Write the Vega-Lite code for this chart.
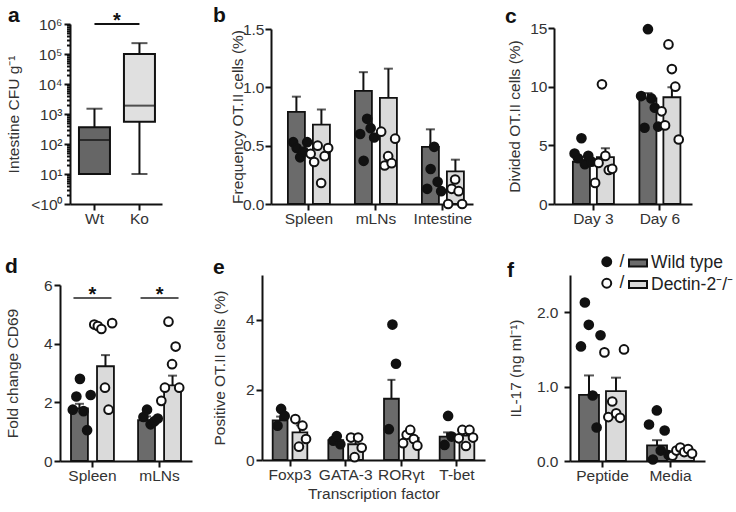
{
  "$schema": "https://vega.github.io/schema/vega-lite/v6.json",
  "background": "white",
  "padding": {"left": 5, "top": 5, "right": 0, "bottom": 0},
  "autosize": {"type": "pad"},
  "config": {
    "view": {"stroke": null},
    "font": "Liberation Sans",
    "axis": {"labelFont": "Liberation Sans", "labelFontSize": 15.5, "labelColor": "#333", "titleFont": "Liberation Sans", "titleFontSize": 15.5, "titleFontWeight": "normal", "titleColor": "#333", "domainColor": "#111", "domainWidth": 2, "tickColor": "#111", "tickWidth": 2, "tickSize": 6, "grid": false, "labelPadding": 1, "labelOverlap": false},
    "title": {"font": "Liberation Sans", "fontSize": 21, "fontWeight": "bold", "anchor": "start", "frame": "group", "baseline": "alphabetic", "color": "#111"}
  },
  "datasets": {
    "aBox": [
      {"genotype": "Wt", "min": 10, "q1": 10, "median": 137, "q3": 360, "max": 1500},
      {"genotype": "Ko", "min": 10, "q1": 550, "median": 1900, "q3": 100000, "max": 230000}
    ],
    "aSig": [{"from": "Wt", "to": "Ko", "p": 1000000}],
    "bBars": [
      {"tissue": "Spleen", "genotype": "WT", "mean": 0.79, "upper": 0.92},
      {"tissue": "Spleen", "genotype": "KO", "mean": 0.68, "upper": 0.81},
      {"tissue": "mLNs", "genotype": "WT", "mean": 0.97, "upper": 1.13},
      {"tissue": "mLNs", "genotype": "KO", "mean": 0.91, "upper": 1.16},
      {"tissue": "Intestine", "genotype": "WT", "mean": 0.49, "upper": 0.64},
      {"tissue": "Intestine", "genotype": "KO", "mean": 0.28, "upper": 0.38}
    ],
    "bDots": [
      {"tissue": "Spleen", "genotype": "WT", "sample": "W4", "value": 0.53},
      {"tissue": "Spleen", "genotype": "WT", "sample": "W2", "value": 0.48},
      {"tissue": "Spleen", "genotype": "WT", "sample": "W1", "value": 0.40},
      {"tissue": "Spleen", "genotype": "WT", "sample": "W3", "value": 0.45},
      {"tissue": "Spleen", "genotype": "WT", "sample": "W5", "value": 0.53},
      {"tissue": "Spleen", "genotype": "KO", "sample": "K6", "value": 0.43},
      {"tissue": "Spleen", "genotype": "KO", "sample": "K4", "value": 0.36},
      {"tissue": "Spleen", "genotype": "KO", "sample": "K2", "value": 0.50},
      {"tissue": "Spleen", "genotype": "KO", "sample": "K1", "value": 0.18},
      {"tissue": "Spleen", "genotype": "KO", "sample": "K3", "value": 0.41},
      {"tissue": "Spleen", "genotype": "KO", "sample": "K5", "value": 0.48},
      {"tissue": "mLNs", "genotype": "WT", "sample": "W4", "value": 0.60},
      {"tissue": "mLNs", "genotype": "WT", "sample": "W2", "value": 0.37},
      {"tissue": "mLNs", "genotype": "WT", "sample": "W1", "value": 0.73},
      {"tissue": "mLNs", "genotype": "WT", "sample": "W3", "value": 0.65},
      {"tissue": "mLNs", "genotype": "WT", "sample": "W5", "value": 0.57},
      {"tissue": "mLNs", "genotype": "KO", "sample": "K4", "value": 0.62},
      {"tissue": "mLNs", "genotype": "KO", "sample": "K2", "value": 0.33},
      {"tissue": "mLNs", "genotype": "KO", "sample": "K1", "value": 0.41},
      {"tissue": "mLNs", "genotype": "KO", "sample": "K3", "value": 0.35},
      {"tissue": "mLNs", "genotype": "KO", "sample": "K5", "value": 0.56},
      {"tissue": "Intestine", "genotype": "WT", "sample": "W4", "value": 0.13},
      {"tissue": "Intestine", "genotype": "WT", "sample": "W2", "value": 0.30},
      {"tissue": "Intestine", "genotype": "WT", "sample": "W1", "value": 0.49},
      {"tissue": "Intestine", "genotype": "WT", "sample": "W3", "value": 0.19},
      {"tissue": "Intestine", "genotype": "WT", "sample": "W5", "value": 0.11},
      {"tissue": "Intestine", "genotype": "KO", "sample": "K4", "value": 0.0},
      {"tissue": "Intestine", "genotype": "KO", "sample": "K2", "value": 0.13},
      {"tissue": "Intestine", "genotype": "KO", "sample": "K1", "value": 0.21},
      {"tissue": "Intestine", "genotype": "KO", "sample": "K3", "value": 0.11},
      {"tissue": "Intestine", "genotype": "KO", "sample": "K5", "value": 0.0}
    ],
    "cBars": [
      {"day": "Day 3", "genotype": "WT", "mean": 3.6, "upper": 4.0},
      {"day": "Day 3", "genotype": "KO", "mean": 4.0, "upper": 4.75},
      {"day": "Day 6", "genotype": "WT", "mean": 9.0, "upper": 9.45},
      {"day": "Day 6", "genotype": "KO", "mean": 9.1, "upper": 9.95}
    ],
    "cDots": [
      {"day": "Day 3", "genotype": "WT", "sample": "W6", "value": 4.3},
      {"day": "Day 3", "genotype": "WT", "sample": "W4", "value": 3.9},
      {"day": "Day 3", "genotype": "WT", "sample": "W2", "value": 5.6},
      {"day": "Day 3", "genotype": "WT", "sample": "W1", "value": 3.4},
      {"day": "Day 3", "genotype": "WT", "sample": "W3", "value": 4.1},
      {"day": "Day 3", "genotype": "WT", "sample": "W5", "value": 3.6},
      {"day": "Day 3", "genotype": "KO", "sample": "K6", "value": 1.8},
      {"day": "Day 3", "genotype": "KO", "sample": "K4", "value": 3.5},
      {"day": "Day 3", "genotype": "KO", "sample": "K2", "value": 10.2},
      {"day": "Day 3", "genotype": "KO", "sample": "K1", "value": 4.1},
      {"day": "Day 3", "genotype": "KO", "sample": "K3", "value": 2.9},
      {"day": "Day 3", "genotype": "KO", "sample": "K5", "value": 3.0},
      {"day": "Day 6", "genotype": "WT", "sample": "W6", "value": 9.2},
      {"day": "Day 6", "genotype": "WT", "sample": "W4", "value": 6.5},
      {"day": "Day 6", "genotype": "WT", "sample": "W2", "value": 14.9},
      {"day": "Day 6", "genotype": "WT", "sample": "W1", "value": 9.0},
      {"day": "Day 6", "genotype": "WT", "sample": "W3", "value": 8.2},
      {"day": "Day 6", "genotype": "WT", "sample": "W5", "value": 6.6},
      {"day": "Day 6", "genotype": "KO", "sample": "K6", "value": 7.9},
      {"day": "Day 6", "genotype": "KO", "sample": "K4", "value": 6.7},
      {"day": "Day 6", "genotype": "KO", "sample": "K2", "value": 13.6},
      {"day": "Day 6", "genotype": "KO", "sample": "K1", "value": 11.5},
      {"day": "Day 6", "genotype": "KO", "sample": "K3", "value": 10.0},
      {"day": "Day 6", "genotype": "KO", "sample": "K5", "value": 5.5}
    ],
    "dBars": [
      {"tissue": "Spleen", "genotype": "WT", "mean": 1.79, "upper": 1.95},
      {"tissue": "Spleen", "genotype": "KO", "mean": 3.23, "upper": 3.61},
      {"tissue": "mLNs", "genotype": "WT", "mean": 1.39, "upper": 1.52},
      {"tissue": "mLNs", "genotype": "KO", "mean": 2.58, "upper": 2.91}
    ],
    "dDots": [
      {"tissue": "Spleen", "genotype": "WT", "sample": "W6", "value": 1.75},
      {"tissue": "Spleen", "genotype": "WT", "sample": "W4", "value": 2.2},
      {"tissue": "Spleen", "genotype": "WT", "sample": "W2", "value": 2.8},
      {"tissue": "Spleen", "genotype": "WT", "sample": "W1", "value": 1.7},
      {"tissue": "Spleen", "genotype": "WT", "sample": "W3", "value": 1.05},
      {"tissue": "Spleen", "genotype": "WT", "sample": "W5", "value": 2.25},
      {"tissue": "Spleen", "genotype": "KO", "sample": "K6", "value": 4.65},
      {"tissue": "Spleen", "genotype": "KO", "sample": "K4", "value": 4.6},
      {"tissue": "Spleen", "genotype": "KO", "sample": "K2", "value": 4.5},
      {"tissue": "Spleen", "genotype": "KO", "sample": "K1", "value": 2.5},
      {"tissue": "Spleen", "genotype": "KO", "sample": "K3", "value": 1.75},
      {"tissue": "Spleen", "genotype": "KO", "sample": "K5", "value": 4.7},
      {"tissue": "mLNs", "genotype": "WT", "sample": "W4", "value": 1.5},
      {"tissue": "mLNs", "genotype": "WT", "sample": "W2", "value": 1.75},
      {"tissue": "mLNs", "genotype": "WT", "sample": "W1", "value": 1.25},
      {"tissue": "mLNs", "genotype": "WT", "sample": "W3", "value": 1.35},
      {"tissue": "mLNs", "genotype": "WT", "sample": "W5", "value": 1.45},
      {"tissue": "mLNs", "genotype": "KO", "sample": "K6", "value": 2.05},
      {"tissue": "mLNs", "genotype": "KO", "sample": "K4", "value": 2.5},
      {"tissue": "mLNs", "genotype": "KO", "sample": "K2", "value": 4.75},
      {"tissue": "mLNs", "genotype": "KO", "sample": "K1", "value": 3.3},
      {"tissue": "mLNs", "genotype": "KO", "sample": "K3", "value": 3.9},
      {"tissue": "mLNs", "genotype": "KO", "sample": "K5", "value": 2.5}
    ],
    "dSig": [{"tissue": "Spleen", "p": 5.56}, {"tissue": "mLNs", "p": 5.56}],
    "eBars": [
      {"factor": "Foxp3", "genotype": "WT", "mean": 1.13, "upper": 1.24},
      {"factor": "Foxp3", "genotype": "KO", "mean": 0.79, "upper": 0.99},
      {"factor": "GATA-3", "genotype": "WT", "mean": 0.57, "upper": 0.64},
      {"factor": "GATA-3", "genotype": "KO", "mean": 0.45, "upper": 0.58},
      {"factor": "RORγt", "genotype": "WT", "mean": 1.75, "upper": 2.29},
      {"factor": "RORγt", "genotype": "KO", "mean": 0.63, "upper": 0.72},
      {"factor": "T-bet", "genotype": "WT", "mean": 0.67, "upper": 0.79},
      {"factor": "T-bet", "genotype": "KO", "mean": 0.7, "upper": 0.77}
    ],
    "eDots": [
      {"factor": "Foxp3", "genotype": "WT", "sample": "W3", "value": 0.98},
      {"factor": "Foxp3", "genotype": "WT", "sample": "W1", "value": 1.46},
      {"factor": "Foxp3", "genotype": "WT", "sample": "W2", "value": 1.26},
      {"factor": "Foxp3", "genotype": "KO", "sample": "K3", "value": 1.17},
      {"factor": "Foxp3", "genotype": "KO", "sample": "K1", "value": 0.38},
      {"factor": "Foxp3", "genotype": "KO", "sample": "K2", "value": 0.98},
      {"factor": "Foxp3", "genotype": "KO", "sample": "K4", "value": 0.6},
      {"factor": "GATA-3", "genotype": "WT", "sample": "W3", "value": 0.55},
      {"factor": "GATA-3", "genotype": "WT", "sample": "W1", "value": 0.68},
      {"factor": "GATA-3", "genotype": "WT", "sample": "W2", "value": 0.45},
      {"factor": "GATA-3", "genotype": "KO", "sample": "K3", "value": 0.64},
      {"factor": "GATA-3", "genotype": "KO", "sample": "K1", "value": 0.08},
      {"factor": "GATA-3", "genotype": "KO", "sample": "K2", "value": 0.64},
      {"factor": "GATA-3", "genotype": "KO", "sample": "K4", "value": 0.35},
      {"factor": "RORγt", "genotype": "WT", "sample": "W3", "value": 0.88},
      {"factor": "RORγt", "genotype": "WT", "sample": "W1", "value": 3.87},
      {"factor": "RORγt", "genotype": "WT", "sample": "W2", "value": 2.75},
      {"factor": "RORγt", "genotype": "KO", "sample": "K5", "value": 0.48},
      {"factor": "RORγt", "genotype": "KO", "sample": "K3", "value": 0.72},
      {"factor": "RORγt", "genotype": "KO", "sample": "K1", "value": 0.86},
      {"factor": "RORγt", "genotype": "KO", "sample": "K2", "value": 0.6},
      {"factor": "RORγt", "genotype": "KO", "sample": "K4", "value": 0.41},
      {"factor": "T-bet", "genotype": "WT", "sample": "W3", "value": 0.43},
      {"factor": "T-bet", "genotype": "WT", "sample": "W1", "value": 1.26},
      {"factor": "T-bet", "genotype": "WT", "sample": "W2", "value": 0.67},
      {"factor": "T-bet", "genotype": "KO", "sample": "K5", "value": 0.62},
      {"factor": "T-bet", "genotype": "KO", "sample": "K3", "value": 0.86},
      {"factor": "T-bet", "genotype": "KO", "sample": "K1", "value": 0.4},
      {"factor": "T-bet", "genotype": "KO", "sample": "K2", "value": 0.86},
      {"factor": "T-bet", "genotype": "KO", "sample": "K4", "value": 0.64}
    ],
    "fBars": [
      {"stimulus": "Peptide", "genotype": "Wild type", "mean": 0.89, "upper": 1.15},
      {"stimulus": "Peptide", "genotype": "Dectin-2⁻/⁻", "mean": 0.94, "upper": 1.12},
      {"stimulus": "Media", "genotype": "Wild type", "mean": 0.21, "upper": 0.28},
      {"stimulus": "Media", "genotype": "Dectin-2⁻/⁻", "mean": 0.13, "upper": 0.17}
    ],
    "fDots": [
      {"stimulus": "Peptide", "genotype": "WT", "sample": "W6", "value": 1.54},
      {"stimulus": "Peptide", "genotype": "WT", "sample": "W4", "value": 2.13},
      {"stimulus": "Peptide", "genotype": "WT", "sample": "W2", "value": 1.83},
      {"stimulus": "Peptide", "genotype": "WT", "sample": "W1", "value": 0.88},
      {"stimulus": "Peptide", "genotype": "WT", "sample": "W3", "value": 0.45},
      {"stimulus": "Peptide", "genotype": "WT", "sample": "W5", "value": 1.69},
      {"stimulus": "Peptide", "genotype": "KO", "sample": "K6", "value": 1.46},
      {"stimulus": "Peptide", "genotype": "KO", "sample": "K4", "value": 0.59},
      {"stimulus": "Peptide", "genotype": "KO", "sample": "K2", "value": 0.8},
      {"stimulus": "Peptide", "genotype": "KO", "sample": "K1", "value": 0.64},
      {"stimulus": "Peptide", "genotype": "KO", "sample": "K3", "value": 0.58},
      {"stimulus": "Peptide", "genotype": "KO", "sample": "K5", "value": 1.5},
      {"stimulus": "Media", "genotype": "WT", "sample": "W6", "value": 0.49},
      {"stimulus": "Media", "genotype": "WT", "sample": "W4", "value": 0.02},
      {"stimulus": "Media", "genotype": "WT", "sample": "W2", "value": 0.68},
      {"stimulus": "Media", "genotype": "WT", "sample": "W1", "value": 0.14},
      {"stimulus": "Media", "genotype": "WT", "sample": "W3", "value": 0.41},
      {"stimulus": "Media", "genotype": "WT", "sample": "W5", "value": 0.08},
      {"stimulus": "Media", "genotype": "KO", "sample": "K6", "value": 0.07},
      {"stimulus": "Media", "genotype": "KO", "sample": "K4", "value": 0.14},
      {"stimulus": "Media", "genotype": "KO", "sample": "K2", "value": 0.18},
      {"stimulus": "Media", "genotype": "KO", "sample": "K1", "value": 0.12},
      {"stimulus": "Media", "genotype": "KO", "sample": "K3", "value": 0.16},
      {"stimulus": "Media", "genotype": "KO", "sample": "K5", "value": 0.1}
    ]
  },
  "spacing": 29,
  "vconcat": [
    {
      "bounds": "flush",
      "spacing": 0,
      "hconcat": [
        {"width": 10, "height": 1, "data": {"values": []}, "mark": "point"},
        {
          "width": 92, "height": 180,
          "title": {"text": "a", "dx": -62, "offset": -15},
          "data": {"name": "aBox"},
          "encoding": {"x": {"field": "genotype", "type": "nominal", "title": null, "scale": {"domain": ["Wt", "Ko"], "paddingInner": 0.311, "paddingOuter": 0.178, "align": 0.56}, "axis": {"labelAngle": 0, "labelPadding": 1}}},
          "layer": [
            {"mark": {"type": "rule", "color": "#111", "strokeWidth": 2},
             "encoding": {"y": {"field": "min", "type": "quantitative", "title": "Intestine CFU g⁻¹", "scale": {"type": "log", "domain": [1, 1000000], "nice": false},
               "axis": {"titlePadding": 9, "labelPadding": 2,
                 "tickSize": {"condition": {"test": "indexof([1, 10, 100, 1000, 10000, 100000, 1000000], datum.value) >= 0", "value": 6}, "value": 3.5},
                 "values": [1,2,3,4,5,6,7,8,9,10,20,30,40,50,60,70,80,90,100,200,300,400,500,600,700,800,900,1000,2000,3000,4000,5000,6000,7000,8000,9000,10000,20000,30000,40000,50000,60000,70000,80000,90000,100000,200000,300000,400000,500000,600000,700000,800000,900000,1000000],
                 "labelExpr": "datum.value === 1 ? '<10⁰' : datum.value === 10 ? '10¹' : datum.value === 100 ? '10²' : datum.value === 1000 ? '10³' : datum.value === 10000 ? '10⁴' : datum.value === 100000 ? '10⁵' : datum.value === 1000000 ? '10⁶' : ''"}},
               "y2": {"field": "max"}}},
            {"mark": {"type": "tick", "color": "#111", "thickness": 2, "size": 16}, "encoding": {"y": {"field": "max", "type": "quantitative", "title": "Intestine CFU g⁻¹"}}},
            {"mark": {"type": "tick", "color": "#111", "thickness": 2, "size": 16}, "encoding": {"y": {"field": "min", "type": "quantitative", "title": "Intestine CFU g⁻¹"}}},
            {"mark": {"type": "bar", "stroke": "#111", "strokeWidth": 2},
             "encoding": {"y": {"field": "q1", "type": "quantitative", "title": "Intestine CFU g⁻¹"}, "y2": {"field": "q3"},
               "fill": {"condition": {"test": "datum.genotype === 'Wt'", "value": "#666666"}, "value": "#e0e0e0"}}},
            {"mark": {"type": "tick", "color": "#111", "thickness": 2, "size": 31}, "encoding": {"y": {"field": "median", "type": "quantitative", "title": "Intestine CFU g⁻¹"}}},
            {"data": {"name": "aSig"}, "mark": {"type": "rule", "color": "#111", "strokeWidth": 2},
             "encoding": {"x": {"field": "from", "type": "nominal", "title": null}, "x2": {"field": "to"}, "y": {"field": "p", "type": "quantitative", "title": "Intestine CFU g⁻¹"}}},
            {"data": {"name": "aSig"}, "mark": {"type": "text", "text": "*", "fontSize": 20, "fontWeight": "bold", "dx": 22.5, "dy": 3, "baseline": "alphabetic", "color": "#111"},
             "encoding": {"x": {"field": "from", "type": "nominal", "title": null}, "y": {"field": "p", "type": "quantitative", "title": "Intestine CFU g⁻¹"}}}
          ]
        },
        {"width": 109, "height": 1, "data": {"values": []}, "mark": "point"},
        {
          "width": 202, "height": 180,
          "title": {"text": "b", "dx": -58, "offset": -4},
          "encoding": {"x": {"field": "tissue", "type": "nominal", "title": null, "scale": {"domain": ["Spleen", "mLNs", "Intestine"], "paddingInner": 0.373, "paddingOuter": 0.194, "align": 0.65}, "axis": {"labelAngle": 0}}},
          "layer": [
            {"data": {"name": "bBars"}, "mark": {"type": "bar", "stroke": "#111", "strokeWidth": 1.8},
             "encoding": {"xOffset": {"field": "genotype", "type": "nominal", "scale": {"domain": ["WT", "KO"], "paddingInner": 0.32, "paddingOuter": 0}},
               "y": {"field": "mean", "type": "quantitative", "title": "Frequency OT.II cells (%)", "scale": {"domain": [0, 1.5], "nice": false, "range": [180, 5]},
                 "axis": {"titlePadding": -3, "values": [0, 0.25, 0.5, 0.75, 1, 1.25, 1.5], "labelExpr": "datum.value % 0.5 === 0 ? format(datum.value, '.1f') : ''"}},
               "fill": {"condition": {"test": "datum.genotype === 'WT'", "value": "#6b6b6b"}, "value": "#dadada"}}},
            {"data": {"name": "bBars"}, "mark": {"type": "rule", "color": "#111", "strokeWidth": 2},
             "encoding": {"xOffset": {"field": "genotype", "type": "nominal", "scale": {"domain": ["WT", "KO"], "paddingInner": 0.32, "paddingOuter": 0}},
               "y": {"field": "mean", "type": "quantitative", "title": "Frequency OT.II cells (%)"}, "y2": {"field": "upper"}}},
            {"data": {"name": "bBars"}, "mark": {"type": "tick", "color": "#111", "thickness": 2, "size": 9},
             "encoding": {"xOffset": {"field": "genotype", "type": "nominal", "scale": {"domain": ["WT", "KO"], "paddingInner": 0.32, "paddingOuter": 0}},
               "y": {"field": "upper", "type": "quantitative", "title": "Frequency OT.II cells (%)"}}},
            {"data": {"name": "bDots"}, "mark": {"type": "circle", "size": 75, "opacity": 1, "stroke": "#111", "strokeWidth": 2},
             "encoding": {"xOffset": {"field": "sample", "type": "nominal", "scale": {"domain": ["W6", "W4", "W2", "W1", "W3", "W5", "K6", "K4", "K2", "K1", "K3", "K5"]}},
               "y": {"field": "value", "type": "quantitative", "title": "Frequency OT.II cells (%)"},
               "fill": {"condition": {"test": "datum.genotype === 'WT'", "value": "#111"}, "value": "white"}}}
          ],
          "resolve": {"scale": {"xOffset": "independent"}}
        },
        {"width": 81, "height": 1, "data": {"values": []}, "mark": "point"},
        {
          "width": 138, "height": 180,
          "title": {"text": "c", "dx": -49, "offset": -6},
          "encoding": {"x": {"field": "day", "type": "nominal", "title": null, "scale": {"domain": ["Day 3", "Day 6"], "paddingInner": 0.383, "paddingOuter": 0.229, "align": 0.62}, "axis": {"labelAngle": 0}}},
          "layer": [
            {"data": {"name": "cBars"}, "mark": {"type": "bar", "stroke": "#111", "strokeWidth": 1.8},
             "encoding": {"xOffset": {"field": "genotype", "type": "nominal", "scale": {"domain": ["WT", "KO"], "paddingInner": 0.29, "paddingOuter": 0}},
               "y": {"field": "mean", "type": "quantitative", "title": "Divided OT.II cells (%)", "scale": {"domain": [0, 15], "nice": false, "range": [180, 4]},
                 "axis": {"titlePadding": 7, "values": [0, 2.5, 5, 7.5, 10, 12.5, 15], "labelExpr": "datum.value % 5 === 0 ? format(datum.value, 'd') : ''"}},
               "fill": {"condition": {"test": "datum.genotype === 'WT'", "value": "#6b6b6b"}, "value": "#dadada"}}},
            {"data": {"name": "cBars"}, "mark": {"type": "rule", "color": "#111", "strokeWidth": 2},
             "encoding": {"xOffset": {"field": "genotype", "type": "nominal", "scale": {"domain": ["WT", "KO"], "paddingInner": 0.29, "paddingOuter": 0}},
               "y": {"field": "mean", "type": "quantitative", "title": "Divided OT.II cells (%)"}, "y2": {"field": "upper"}}},
            {"data": {"name": "cBars"}, "mark": {"type": "tick", "color": "#111", "thickness": 2, "size": 9},
             "encoding": {"xOffset": {"field": "genotype", "type": "nominal", "scale": {"domain": ["WT", "KO"], "paddingInner": 0.29, "paddingOuter": 0}},
               "y": {"field": "upper", "type": "quantitative", "title": "Divided OT.II cells (%)"}}},
            {"data": {"name": "cDots"}, "mark": {"type": "circle", "size": 75, "opacity": 1, "stroke": "#111", "strokeWidth": 2},
             "encoding": {"xOffset": {"field": "sample", "type": "nominal", "scale": {"domain": ["W6", "W4", "W2", "W1", "W3", "W5", "K6", "K4", "K2", "K1", "K3", "K5"]}},
               "y": {"field": "value", "type": "quantitative", "title": "Divided OT.II cells (%)"},
               "fill": {"condition": {"test": "datum.genotype === 'WT'", "value": "#111"}, "value": "white"}}}
          ],
          "resolve": {"scale": {"xOffset": "independent"}}
        }
      ]
    },
    {
      "bounds": "flush",
      "spacing": 0,
      "hconcat": [
        {
          "width": 132, "height": 186,
          "title": {"text": "d", "dx": -55, "offset": -2},
          "encoding": {"x": {"field": "tissue", "type": "nominal", "title": null, "scale": {"domain": ["Spleen", "mLNs"], "paddingInner": 0.36, "paddingOuter": 0.164}, "axis": {"labelAngle": 0}}},
          "layer": [
            {"data": {"name": "dBars"}, "mark": {"type": "bar", "stroke": "#111", "strokeWidth": 1.8},
             "encoding": {"xOffset": {"field": "genotype", "type": "nominal", "scale": {"domain": ["WT", "KO"], "paddingInner": 0.35, "paddingOuter": 0}},
               "y": {"field": "mean", "type": "quantitative", "title": "Fold change CD69", "scale": {"domain": [0, 6], "nice": false, "range": [186, 10]},
                 "axis": {"titlePadding": 23, "labelPadding": 2, "values": [0, 1, 2, 3, 4, 5, 6], "labelExpr": "datum.value % 2 === 0 ? datum.label : ''"}},
               "fill": {"condition": {"test": "datum.genotype === 'WT'", "value": "#6b6b6b"}, "value": "#dadada"}}},
            {"data": {"name": "dBars"}, "mark": {"type": "rule", "color": "#111", "strokeWidth": 2},
             "encoding": {"xOffset": {"field": "genotype", "type": "nominal", "scale": {"domain": ["WT", "KO"], "paddingInner": 0.35, "paddingOuter": 0}},
               "y": {"field": "mean", "type": "quantitative", "title": "Fold change CD69"}, "y2": {"field": "upper"}}},
            {"data": {"name": "dBars"}, "mark": {"type": "tick", "color": "#111", "thickness": 2, "size": 9},
             "encoding": {"xOffset": {"field": "genotype", "type": "nominal", "scale": {"domain": ["WT", "KO"], "paddingInner": 0.35, "paddingOuter": 0}},
               "y": {"field": "upper", "type": "quantitative", "title": "Fold change CD69"}}},
            {"data": {"name": "dDots"}, "mark": {"type": "circle", "size": 75, "opacity": 1, "stroke": "#111", "strokeWidth": 2},
             "encoding": {"xOffset": {"field": "sample", "type": "nominal", "scale": {"domain": ["W6", "W4", "W2", "W1", "W3", "W5", "K6", "K4", "K2", "K1", "K3", "K5"]}},
               "y": {"field": "value", "type": "quantitative", "title": "Fold change CD69"},
               "fill": {"condition": {"test": "datum.genotype === 'WT'", "value": "#111"}, "value": "white"}}},
            {"data": {"name": "dSig"}, "mark": {"type": "tick", "color": "#111", "thickness": 2, "size": 38},
             "encoding": {"y": {"field": "p", "type": "quantitative", "title": "Fold change CD69"}}},
            {"data": {"name": "dSig"}, "mark": {"type": "text", "text": "*", "fontSize": 20, "fontWeight": "bold", "dy": 3, "baseline": "alphabetic", "color": "#111"},
             "encoding": {"y": {"field": "p", "type": "quantitative", "title": "Fold change CD69"}}}
          ],
          "resolve": {"scale": {"xOffset": "independent"}}
        },
        {"width": 70, "height": 1, "data": {"values": []}, "mark": "point"},
        {
          "width": 223, "height": 185,
          "title": {"text": "e", "dx": -49, "offset": -3},
          "encoding": {"x": {"field": "factor", "type": "nominal", "title": "Transcription factor", "scale": {"domain": ["Foxp3", "GATA-3", "RORγt", "T-bet"], "paddingInner": 0.36, "paddingOuter": 0.183}, "axis": {"titlePadding": 4, "labelAngle": 0}}},
          "layer": [
            {"data": {"name": "eBars"}, "mark": {"type": "bar", "stroke": "#111", "strokeWidth": 1.8},
             "encoding": {"xOffset": {"field": "genotype", "type": "nominal", "scale": {"domain": ["WT", "KO"], "paddingInner": 0.25, "paddingOuter": 0.025}},
               "y": {"field": "mean", "type": "quantitative", "title": "Positive OT.II cells (%)", "scale": {"domain": [0, 5.2857], "nice": false},
                 "axis": {"titlePadding": 18, "labelPadding": 2, "labelOverlap": false, "values": [0, 1, 2, 3, 4, 5], "labelExpr": "format(datum.value, 'd')"}},
               "fill": {"condition": {"test": "datum.genotype === 'WT'", "value": "#6b6b6b"}, "value": "#dadada"}}},
            {"data": {"name": "eBars"}, "mark": {"type": "rule", "color": "#111", "strokeWidth": 2},
             "encoding": {"xOffset": {"field": "genotype", "type": "nominal", "scale": {"domain": ["WT", "KO"], "paddingInner": 0.25, "paddingOuter": 0.025}},
               "y": {"field": "mean", "type": "quantitative", "title": "Positive OT.II cells (%)"}, "y2": {"field": "upper"}}},
            {"data": {"name": "eBars"}, "mark": {"type": "tick", "color": "#111", "thickness": 2, "size": 8},
             "encoding": {"xOffset": {"field": "genotype", "type": "nominal", "scale": {"domain": ["WT", "KO"], "paddingInner": 0.25, "paddingOuter": 0.025}},
               "y": {"field": "upper", "type": "quantitative", "title": "Positive OT.II cells (%)"}}},
            {"data": {"name": "eDots"}, "mark": {"type": "circle", "size": 75, "opacity": 1, "stroke": "#111", "strokeWidth": 2},
             "encoding": {"xOffset": {"field": "sample", "type": "nominal", "scale": {"domain": ["W5", "W3", "W1", "W2", "W4", "K5", "K3", "K1", "K2", "K4"]}},
               "y": {"field": "value", "type": "quantitative", "title": "Positive OT.II cells (%)"},
               "fill": {"condition": {"test": "datum.genotype === 'WT'", "value": "#111"}, "value": "white"}}}
          ],
          "resolve": {"scale": {"xOffset": "independent"}}
        },
        {"width": 85, "height": 1, "data": {"values": []}, "mark": "point"},
        {
          "width": 135, "height": 186,
          "title": {"text": "f", "dx": -63, "offset": -6},
          "encoding": {"x": {"field": "stimulus", "type": "nominal", "title": null, "scale": {"domain": ["Peptide", "Media"], "paddingInner": 0.31, "paddingOuter": 0.147, "align": 0.45}, "axis": {"labelAngle": 0}}},
          "layer": [
            {"data": {"name": "fBars"}, "mark": {"type": "bar", "stroke": "#111", "strokeWidth": 1.8},
             "encoding": {"xOffset": {"field": "genotype", "type": "nominal", "scale": {"domain": ["Wild type", "Dectin-2⁻/⁻"], "paddingInner": 0.26, "paddingOuter": 0}},
               "y": {"field": "mean", "type": "quantitative", "title": "IL-17 (ng ml⁻¹)", "scale": {"domain": [0, 2.5], "nice": false},
                 "axis": {"titlePadding": 13, "labelPadding": 6, "values": [0, 0.5, 1, 1.5, 2, 2.5], "labelExpr": "datum.value % 1 === 0 ? format(datum.value, '.1f') : ''"}},
               "color": {"field": "genotype", "type": "nominal", "scale": {"domain": ["Wild type", "Dectin-2⁻/⁻"], "range": ["#6b6b6b", "#dadada"]},
                 "legend": {"orient": "none", "legendX": 568, "legendY": 229, "title": null, "padding": 0, "symbolType": "M-1,-0.4H1V0.4H-1Z", "symbolSize": 324, "symbolStrokeColor": "#111", "symbolStrokeWidth": 2, "symbolOpacity": 1, "labelFont": "Liberation Sans", "labelFontSize": 17.5, "labelColor": "#222", "labelOffset": 3, "rowPadding": 2.5}}}},
            {"data": {"name": "fBars"}, "mark": {"type": "rule", "color": "#111", "strokeWidth": 2},
             "encoding": {"xOffset": {"field": "genotype", "type": "nominal", "scale": {"domain": ["Wild type", "Dectin-2⁻/⁻"], "paddingInner": 0.26, "paddingOuter": 0}},
               "y": {"field": "mean", "type": "quantitative", "title": "IL-17 (ng ml⁻¹)"}, "y2": {"field": "upper"}}},
            {"data": {"name": "fBars"}, "mark": {"type": "tick", "color": "#111", "thickness": 2, "size": 10},
             "encoding": {"xOffset": {"field": "genotype", "type": "nominal", "scale": {"domain": ["Wild type", "Dectin-2⁻/⁻"], "paddingInner": 0.26, "paddingOuter": 0}},
               "y": {"field": "upper", "type": "quantitative", "title": "IL-17 (ng ml⁻¹)"}}},
            {"data": {"name": "fDots"}, "mark": {"type": "circle", "size": 75, "opacity": 1, "stroke": "#111", "strokeWidth": 2},
             "encoding": {"xOffset": {"field": "sample", "type": "nominal", "scale": {"domain": ["W6", "W4", "W2", "W1", "W3", "W5", "K6", "K4", "K2", "K1", "K3", "K5"]}},
               "y": {"field": "value", "type": "quantitative", "title": "IL-17 (ng ml⁻¹)"},
               "fill": {"field": "genotype", "type": "nominal", "scale": {"domain": ["WT", "KO"], "range": ["#111", "white"]},
                 "legend": {"orient": "none", "legendX": 538, "legendY": 229, "title": null, "padding": 0, "symbolType": "circle", "symbolSize": 80, "symbolStrokeColor": "#111", "symbolStrokeWidth": 2, "symbolOpacity": 1, "labelExpr": "'/'", "labelFont": "Liberation Sans", "labelFontSize": 17.5, "labelColor": "#222", "labelOffset": 4, "rowPadding": 2.5}}}}
          ],
          "resolve": {"scale": {"xOffset": "independent"}}
        }
      ]
    }
  ]
}
